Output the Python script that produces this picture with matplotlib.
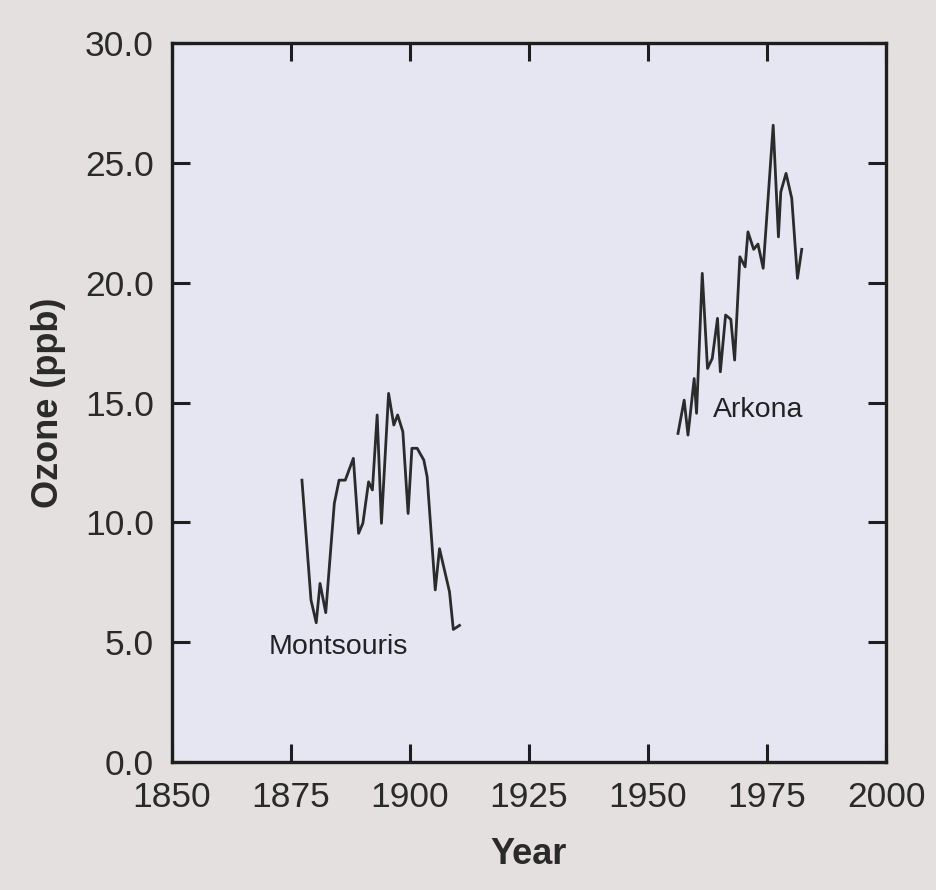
import matplotlib.pyplot as plt
import matplotlib.ticker as ticker

plt.rcParams["font.family"] = ["Liberation Sans", "DejaVu Sans"]

# Montsouris (Paris) annual means
montsouris_year = [1877.3, 1879.2, 1880.3, 1881.1, 1882.3, 1884.1, 1885.1, 1886.4,
                   1888.1, 1889.2, 1890.1, 1891.3, 1892.1, 1893.1, 1894.0, 1895.5,
                   1896.6, 1897.4, 1898.5, 1899.6, 1900.4, 1901.5, 1902.9, 1903.6,
                   1905.3, 1906.2, 1908.3, 1909.1, 1910.4]
montsouris_ozone = [11.76, 6.76, 5.81, 7.45, 6.23, 10.79, 11.76, 11.76,
                    12.67, 9.54, 9.96, 11.69, 11.35, 14.48, 9.96, 15.38,
                    14.06, 14.48, 13.78, 10.37, 13.09, 13.09, 12.6, 11.9,
                    7.18, 8.9, 7.1, 5.53, 5.7]

# Arkona annual means
arkona_year = [1956.3, 1957.6, 1958.4, 1959.7, 1960.2, 1961.4, 1962.5, 1963.5,
               1964.6, 1965.2, 1966.3, 1967.4, 1968.2, 1969.3, 1970.4, 1971.0,
               1972.2, 1973.1, 1974.2, 1976.3, 1977.4, 1977.9, 1979.0, 1980.2,
               1981.4, 1982.3]
arkona_ozone = [13.71, 15.1, 13.64, 16.0, 14.55, 20.39, 16.42, 16.84,
                18.51, 16.28, 18.65, 18.47, 16.77, 21.08, 20.66, 22.12,
                21.39, 21.61, 20.6, 26.57, 21.91, 23.79, 24.56, 23.52,
                20.18, 21.39]

x_ticks = [1850, 1875, 1900, 1925, 1950, 1975, 2000]
y_ticks = [0, 5, 10, 15, 20, 25, 30]

fig = plt.figure(figsize=(9.37, 8.9), dpi=100, facecolor="#e3e0df")
ax = fig.add_axes([172 / 937, 1 - 762 / 890, (886 - 172) / 937, (762 - 43) / 890])
ax.set_facecolor("#e5e6f2")

line_color = "#2b2b2b"
ax.plot(montsouris_year, montsouris_ozone, color=line_color, linewidth=2.0)
ax.plot(arkona_year, arkona_ozone, color=line_color, linewidth=2.0)

ax.text(1870.4, 4.8, "Montsouris", fontsize=20.5, color="#222222", va="center", ha="left")
ax.text(1963.6, 14.7, "Arkona", fontsize=20.5, color="#222222", va="center", ha="left")

ax.set_xlim(1850, 2000)
ax.set_ylim(0, 30)
ax.set_xticks(x_ticks)
ax.set_yticks(y_ticks)
ax.yaxis.set_major_formatter(ticker.FormatStrFormatter("%.1f"))

for side in ["left", "right", "top", "bottom"]:
    ax.spines[side].set_linewidth(2.4)
    ax.spines[side].set_color("#1e1e1e")

ax.tick_params(direction="in", length=13, width=2.2, color="#1e1e1e",
               top=True, right=True, labelsize=25.5, labelcolor="#2a2a2a")
ax.tick_params(axis="y", pad=13)
ax.tick_params(axis="x", pad=14)

ax.set_xlabel("Year", fontsize=26, fontweight="bold", color="#2a2a2a", labelpad=16)
ax.set_ylabel("Ozone (ppb)", fontsize=26, fontweight="bold", color="#2a2a2a", labelpad=14)

fig.savefig("out.png", dpi=100, facecolor=fig.get_facecolor())
